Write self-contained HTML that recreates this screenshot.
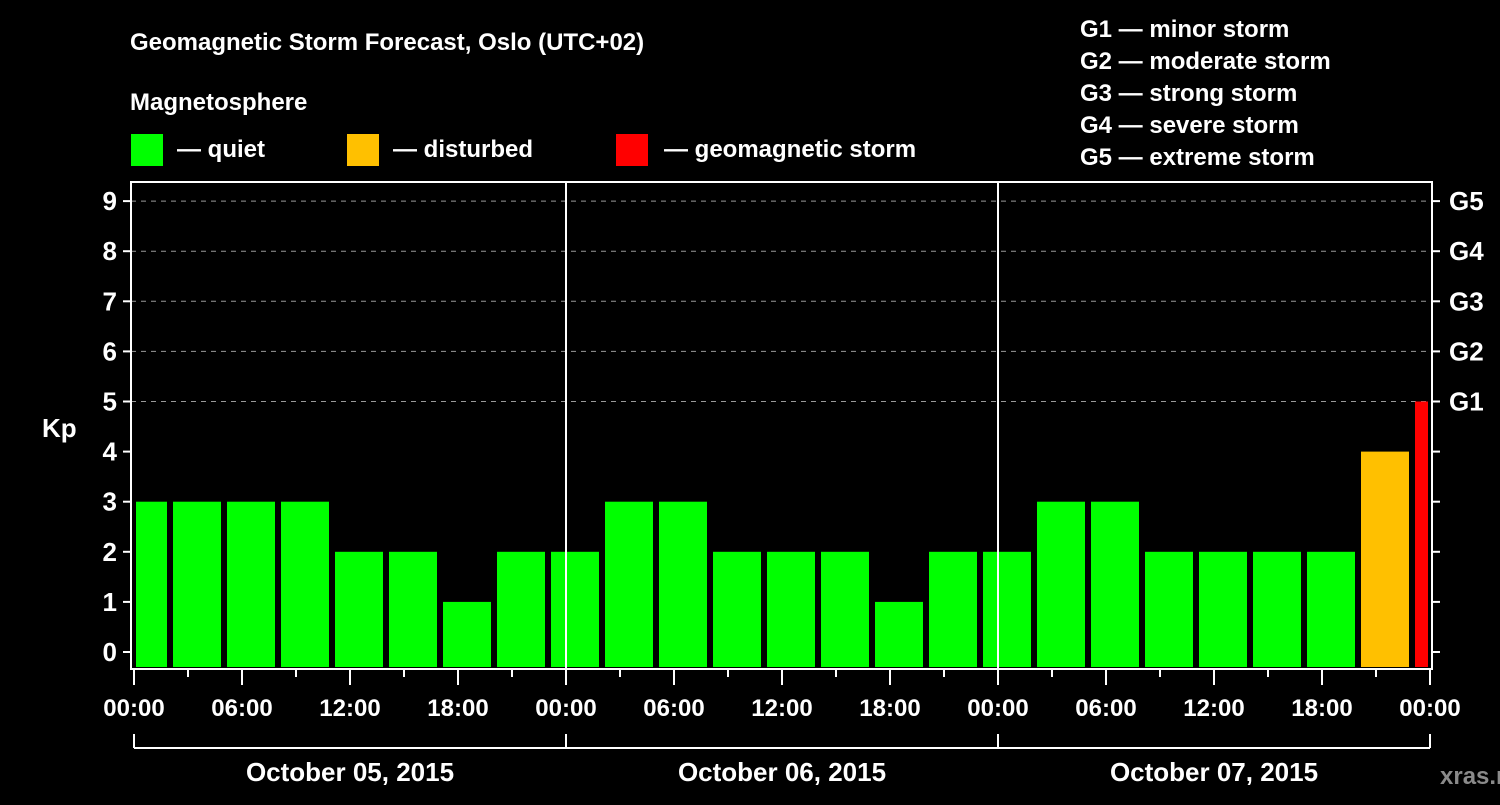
<!DOCTYPE html>
<html><head><meta charset="utf-8"><style>
body{margin:0;background:#000;width:1500px;height:800px;overflow:hidden}
svg text{font-family:"Liberation Sans",sans-serif;font-weight:bold;fill:#fff}
</style></head><body>
<svg id="c" width="1500" height="800" xmlns="http://www.w3.org/2000/svg">
<rect width="1500" height="800" fill="#000"/>
<text x="130" y="50" font-size="24">Geomagnetic Storm Forecast, Oslo (UTC+02)</text>
<text x="130" y="110" font-size="24">Magnetosphere</text>
<g><rect x="131" y="134" width="32" height="32" fill="#00ff00"/><text x="177" y="157" font-size="24">— quiet</text></g>
<g><rect x="347" y="134" width="32" height="32" fill="#ffc000"/><text x="393" y="157" font-size="24">— disturbed</text></g>
<g><rect x="616" y="134" width="32" height="32" fill="#ff0000"/><text x="664" y="157" font-size="24">— geomagnetic storm</text></g>
<g font-size="24">
<text x="1080" y="37">G1 — minor storm</text>
<text x="1080" y="69">G2 — moderate storm</text>
<text x="1080" y="101">G3 — strong storm</text>
<text x="1080" y="133">G4 — severe storm</text>
<text x="1080" y="165">G5 — extreme storm</text>
</g>
<text x="42" y="437" font-size="26">Kp</text>
<text x="1440" y="784" font-size="24" fill="#888" style="fill:#8a8a8a">xras.ru</text>
<g id="plot"></g>
</svg>
<script>
const kpValues=[3,3,3,3,2,2,1,2,2,3,3,2,2,2,1,2,2,3,3,2,2,2,2,4,5];
const yTicks=[0,1,2,3,4,5,6,7,8,9];
const gLabels=["G1","G2","G3","G4","G5"];
const hourLabels=["00:00","06:00","12:00","18:00"];
const dayLabels=["October 05, 2015","October 06, 2015","October 07, 2015"];
const NS="http://www.w3.org/2000/svg";
const L=131,R=1432,T=182,B=669;
const x=h=>134+h*18;
const y=v=>652-v*50.1;
const g=document.getElementById('plot');
function mk(t,a){const e=document.createElementNS(NS,t);for(const k in a)e.setAttribute(k,a[k]);g.appendChild(e);return e;}
// gridlines
yTicks.forEach(v=>{if(v>=5){const l=mk('line',{x1:L,x2:R,y1:y(v),y2:y(v),stroke:'#999','stroke-dasharray':'5,5','stroke-width':1});

}});
// bars
kpValues.forEach((v,i)=>{const c=x(3*i+0.5);let x0=Math.max(c-24,136),x1=Math.min(c+24,1428);
const col=v>=5?'#ff0000':(v>=4?'#ffc000':'#00ff00');
const r=mk('rect',{x:x0,y:y(v),width:x1-x0,height:667-y(v),fill:col});

});
// day separators
[1,2].forEach(d=>{const l=mk('line',{x1:x(24*d),x2:x(24*d),y1:T,y2:B,stroke:'#fff','stroke-width':2});

});
// frame
const f=mk('rect',{x:L,y:T,width:R-L,height:B-T,fill:'none',stroke:'#fff','stroke-width':2});


// y ticks
yTicks.forEach(v=>{mk('line',{x1:L-8,x2:L,y1:y(v),y2:y(v),stroke:'#fff','stroke-width':2});
mk('line',{x1:R,x2:R+8,y1:y(v),y2:y(v),stroke:'#fff','stroke-width':2});
const t=mk('text',{x:L-14,y:y(v)+9,'font-size':26,'text-anchor':'end'});t.textContent=v;


if(v>=5){const s=mk('text',{x:R+17,y:y(v)+9,'font-size':26});s.textContent=gLabels[v-5];

}});
// x ticks
for(let h=0;h<=72;h+=3){const major=h%6==0;mk('line',{x1:x(h),x2:x(h),y1:B,y2:B+(major?16:8),stroke:'#fff','stroke-width':2});
if(major&&h%6==0){const t=mk('text',{x:x(h),y:716,'font-size':24,'text-anchor':'middle'});t.textContent=hourLabels[(h/6)%4];

}}
// day bracket
mk('line',{x1:x(0),x2:x(72),y1:748,y2:748,stroke:'#fff','stroke-width':2});
for(let d=0;d<=3;d++)mk('line',{x1:x(24*d),x2:x(24*d),y1:734,y2:748,stroke:'#fff','stroke-width':2});
dayLabels.forEach((s,i)=>{const t=mk('text',{x:x(24*i+12),y:781,'font-size':26,'text-anchor':'middle'});t.textContent=s;

});
</script>
</body></html>
